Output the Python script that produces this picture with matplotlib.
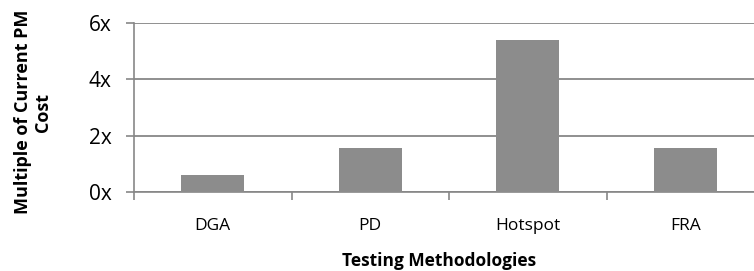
import matplotlib
matplotlib.use("Agg")
import matplotlib.pyplot as plt
import numpy as np

categories = ["DGA", "PD", "Hotspot", "FRA"]
values = [0.6, 1.56, 5.4, 1.56]
yticks = [0, 2, 4, 6]
ytick_labels = ["0x", "2x", "4x", "6x"]

plt.rcParams['font.family'] = ['Open Sans', 'DejaVu Sans']

fig = plt.figure(figsize=(7.54, 2.71), dpi=100)
W, H = 754, 271
left, right, top, bottom = 134, 764, 23, 192
ax = fig.add_axes([left / W, 1 - bottom / H, (right - left) / W, (bottom - top) / H])

x = np.arange(len(categories))
ax.bar(x, values, width=0.4, color="#8c8c8c", zorder=3)
ax.set_xlim(-0.5, len(categories) - 0.5)
ax.set_ylim(0, 6)
ax.set_yticks(yticks)
ax.set_yticklabels(ytick_labels, fontsize=15)
ax.set_xticks(x)
ax.set_xticklabels(categories, fontsize=12.5)
ax.set_xticks(np.arange(len(categories) + 1) - 0.5, minor=True)
ax.tick_params(axis='x', which='major', length=0, pad=19)
ax.tick_params(axis='x', which='minor', length=6, width=1.2, color="#878787")
ax.tick_params(axis='y', length=6, width=1.2, color="#878787", pad=10)
ax.grid(axis='y', color="#878787", linewidth=1.3, zorder=0)
for s in ["top", "right"]:
    ax.spines[s].set_visible(False)
for s in ["left", "bottom"]:
    ax.spines[s].set_color("#878787")
    ax.spines[s].set_linewidth(1.2)

fig.text(439 / W, 1 - 266.5 / H, "Testing Methodologies", fontsize=12.5,
         fontweight="bold", ha="center", va="baseline")
fig.text(33 / W, 1 - 112 / H, "Multiple of Current PM\nCost", rotation=90,
         fontsize=13, fontweight="bold", ha="center", va="center", linespacing=1.1)

fig.savefig("out.png", dpi=100)
